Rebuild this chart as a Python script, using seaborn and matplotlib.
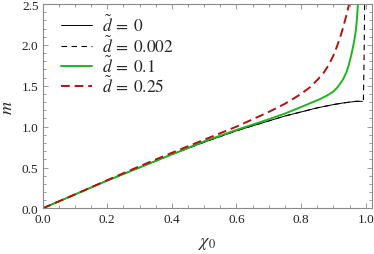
import numpy as np
import pandas as pd
import matplotlib
matplotlib.use('Agg')
import matplotlib.pyplot as plt
import seaborn as sns

# values
chi_d0 = [0.0, 0.1, 0.2, 0.3, 0.4, 0.5, 0.6, 0.7, 0.75, 0.8, 0.85, 0.9, 0.93, 0.95, 0.97, 0.99]
m_d0 = [0.0, 0.17, 0.34, 0.50, 0.66, 0.81, 0.95, 1.07, 1.13, 1.18, 1.23, 1.27, 1.29, 1.30, 1.31, 1.31]

chi_d002 = [0.0, 0.1, 0.2, 0.3, 0.4, 0.5, 0.6, 0.7, 0.75, 0.8, 0.85, 0.9, 0.93, 0.95, 0.97, 0.99, 0.993, 0.995, 0.997]
m_d002 = [0.0, 0.17, 0.34, 0.50, 0.66, 0.81, 0.95, 1.07, 1.13, 1.18, 1.23, 1.27, 1.29, 1.30, 1.31, 1.31, 1.33, 1.8, 2.6]

chi_d01 = [0.0, 0.1, 0.2, 0.3, 0.4, 0.5, 0.6, 0.7, 0.75, 0.8, 0.83, 0.86, 0.88, 0.9, 0.91, 0.92, 0.93, 0.94,
           0.945, 0.95, 0.955, 0.96, 0.965, 0.97, 0.973, 0.976, 0.98]
m_d01 = [0.0, 0.17, 0.34, 0.50, 0.66, 0.82, 0.96, 1.09, 1.16, 1.24, 1.29, 1.34, 1.38, 1.43, 1.47, 1.52, 1.58, 1.66,
         1.72, 1.79, 1.87, 1.96, 2.06, 2.19, 2.32, 2.50, 2.75]

chi_d025 = [0.0, 0.1, 0.2, 0.3, 0.4, 0.5, 0.6, 0.65, 0.7, 0.75, 0.8, 0.83, 0.85, 0.87, 0.88, 0.89, 0.9, 0.91,
            0.92, 0.93, 0.94, 0.95, 0.955]
m_d025 = [0.0, 0.17, 0.345, 0.515, 0.68, 0.84, 1.00, 1.09, 1.18, 1.28, 1.40, 1.49, 1.57, 1.66, 1.72, 1.79, 1.87, 1.97,
          2.08, 2.21, 2.36, 2.52, 2.62]

labels = [r'$\tilde{d}\:=\:0$', r'$\tilde{d}\:=\:0.002$', r'$\tilde{d}\:=\:0.1$', r'$\tilde{d}\:=\:0.25$']

sns.set_style('ticks')
plt.rcParams['font.family'] = ['Liberation Serif', 'DejaVu Serif']
plt.rcParams['mathtext.fontset'] = 'stix'

fig = plt.figure(figsize=(3.74, 2.55), dpi=100)
ax = fig.add_axes([0.114, 0.179, 0.881, 0.801])

sns.lineplot(x=chi_d0, y=m_d0, ax=ax, color='black', linewidth=0.7, label=labels[0])
sns.lineplot(x=chi_d002, y=m_d002, ax=ax, color='black', linewidth=0.8, dashes=False,
             linestyle=(0, (5, 4)), label=labels[1])
sns.lineplot(x=chi_d01, y=m_d01, ax=ax, color='#1fb51f', linewidth=1.4, label=labels[2])
sns.lineplot(x=chi_d025, y=m_d025, ax=ax, color='#b3130f', linewidth=1.4,
             linestyle=(0, (4.5, 2.5)), label=labels[3])

ax.set_xlim(0, 1.02)
ax.set_ylim(0, 2.5)
ax.set_xticks(np.arange(0, 1.01, 0.2))
ax.set_xticks(np.arange(0, 1.02, 0.05), minor=True)
ax.set_yticks(np.arange(0, 2.51, 0.5))
ax.set_yticks(np.arange(0, 2.51, 0.1), minor=True)
ax.xaxis.set_major_formatter(matplotlib.ticker.FormatStrFormatter('%.1f'))
ax.yaxis.set_major_formatter(matplotlib.ticker.FormatStrFormatter('%.1f'))

for s in ax.spines.values():
    s.set_color('#8a8a8a')
    s.set_linewidth(0.8)
ax.tick_params(which='both', direction='in', top=True, right=True, color='#8a8a8a',
               labelsize=9.5, labelcolor='#222222', width=0.6, pad=3)
ax.tick_params(which='major', length=3.5)
ax.tick_params(which='minor', length=2)

ax.set_xlabel(r'$\chi_0$', fontsize=13, labelpad=7)
ax.set_ylabel(r'$m$', fontsize=13, labelpad=4)

leg = ax.legend(loc='upper left', bbox_to_anchor=(0.035, 0.985), frameon=False, fontsize=12.5,
                handlelength=1.8, handletextpad=0.55, labelspacing=-0.05, borderaxespad=0)

fig.savefig('out.png', dpi=100)
